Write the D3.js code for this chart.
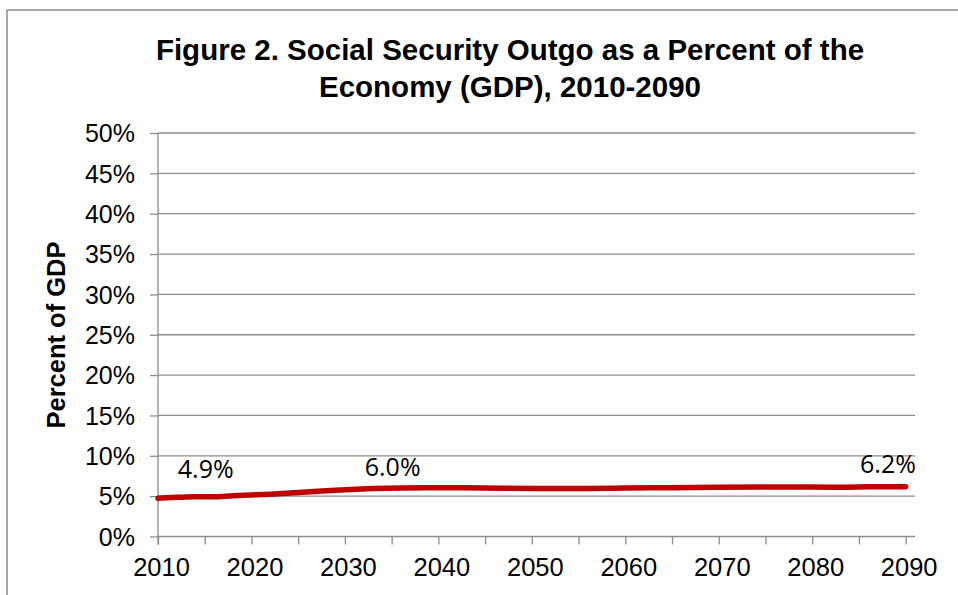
<!DOCTYPE html>
<html>
<head>
<meta charset="utf-8">
<script src="https://cdn.jsdelivr.net/npm/d3@7"></script>
<style>
  html, body { margin: 0; padding: 0; background: #fff; }
  svg { display: block; }
</style>
</head>
<body>
<svg id="chart" width="958" height="595"></svg>
<script>
// ---- Data ----
const titleLines = ["Figure 2. Social Security Outgo as a Percent of the", "Economy (GDP), 2010-2090"];
const yAxisTitle = "Percent of GDP";
const years = [2010, 2012, 2014, 2016, 2018, 2020, 2022, 2025, 2028, 2030, 2033, 2036, 2040, 2045, 2050, 2055, 2060, 2065, 2070, 2075, 2080, 2083, 2086, 2090];
const outgoPct = [4.75, 4.85, 4.92, 4.92, 5.05, 5.15, 5.25, 5.45, 5.68, 5.8, 5.94, 6.02, 6.05, 6.0, 5.95, 5.94, 6.0, 6.05, 6.1, 6.12, 6.12, 6.1, 6.15, 6.18];
const labelYears = [2015, 2035, 2088];
const labelTexts = ["4.9%", "6.0%", "6.2%"];
const labelValues = [4.9, 6.0, 6.2];
const yTickValues = [0, 5, 10, 15, 20, 25, 30, 35, 40, 45, 50];
const xMinorTicks = d3.range(2010, 2091, 5);
const xLabelTicks = [2010, 2020, 2030, 2040, 2050, 2060, 2070, 2080, 2090];

// ---- Layout ----
const svg = d3.select("#chart");
const plotLeft = 158, plotRight = 915, plotTop = 133, plotBottom = 536.5;
const gridColor = "#8c8c8c";

// outer frame
svg.append("rect")
  .attr("x", 7).attr("y", 10).attr("width", 980).attr("height", 620)
  .attr("fill", "none").attr("stroke", "#8a8a8a").attr("stroke-width", 1.5);

const x = d3.scaleLinear().domain([2010, 2091]).range([plotLeft, plotRight]);
const y = d3.scaleLinear().domain([0, 50]).range([plotBottom, plotTop]);

// Title
svg.append("g").selectAll("text").data(titleLines).join("text")
  .attr("x", 510).attr("y", (d, i) => 60 + i * 37)
  .attr("text-anchor", "middle")
  .attr("font-family", "'Liberation Sans', Arial, sans-serif")
  .attr("font-weight", "bold").attr("font-size", 29.5).attr("fill", "#000")
  .text(d => d);

// Gridlines
svg.append("g").selectAll("line").data(yTickValues.filter(v => v > 0)).join("line")
  .attr("x1", plotLeft).attr("x2", plotRight)
  .attr("y1", d => y(d)).attr("y2", d => y(d))
  .attr("stroke", gridColor).attr("stroke-width", 1.3);

// Y axis
const yAxis = d3.axisLeft(y).tickValues(yTickValues).tickSize(8).tickPadding(15)
  .tickFormat(d => d + "%");
const gy = svg.append("g").attr("transform", `translate(${plotLeft},0)`).call(yAxis);
gy.select(".domain").remove();
gy.append("line").attr("x1", 0).attr("x2", 0).attr("y1", plotTop).attr("y2", plotBottom + 8)
  .attr("stroke", gridColor).attr("stroke-width", 1.3);
gy.selectAll(".tick line").attr("stroke", gridColor).attr("stroke-width", 1.3);
gy.selectAll(".tick text")
  .attr("font-family", "'Liberation Sans', Arial, sans-serif")
  .attr("font-size", 25).attr("fill", "#000").attr("dy", "0.35em");

// X axis
const xAxis = d3.axisBottom(x).tickValues(xMinorTicks).tickSize(8).tickPadding(13)
  .tickFormat(d => xLabelTicks.includes(d) ? String(d) : "");
const gx = svg.append("g").attr("transform", `translate(0,${plotBottom})`).call(xAxis);
gx.select(".domain").remove();
gx.append("line").attr("x1", plotLeft).attr("x2", plotRight).attr("y1", 0).attr("y2", 0)
  .attr("stroke", gridColor).attr("stroke-width", 1.3);
gx.selectAll(".tick line").attr("stroke", gridColor).attr("stroke-width", 1.3);
gx.selectAll(".tick text")
  .attr("font-family", "'Liberation Sans', Arial, sans-serif")
  .attr("font-size", 25.5).attr("fill", "#000").attr("dx", 3).attr("dy", "0.71em");

// Y axis title
svg.append("text")
  .attr("transform", "translate(65,335) rotate(-90)")
  .attr("text-anchor", "middle")
  .attr("font-family", "'Liberation Sans', Arial, sans-serif")
  .attr("font-weight", "bold").attr("font-size", 25.5).attr("fill", "#000")
  .text(yAxisTitle);

// Line
const series = years.map((yr, i) => ({ year: yr, value: outgoPct[i] }));
const line = d3.line().x(d => x(d.year)).y(d => y(d.value)).curve(d3.curveMonotoneX);
svg.append("path").datum(series)
  .attr("d", line)
  .attr("fill", "none").attr("stroke", "#c00000").attr("stroke-width", 5.5)
  .attr("stroke-linecap", "round").attr("stroke-linejoin", "round");

// Data labels
const labelOffsets = [-19, -12, -13];
svg.append("g").selectAll("text").data(labelTexts).join("text")
  .attr("x", (d, i) => x(labelYears[i]) + 1)
  .attr("y", (d, i) => y(labelValues[i]) + labelOffsets[i])
  .attr("text-anchor", "middle")
  .attr("font-family", "'Open Sans', sans-serif")
  .attr("font-size", 25).attr("fill", "#000")
  .text(d => d);
</script>
</body>
</html>
